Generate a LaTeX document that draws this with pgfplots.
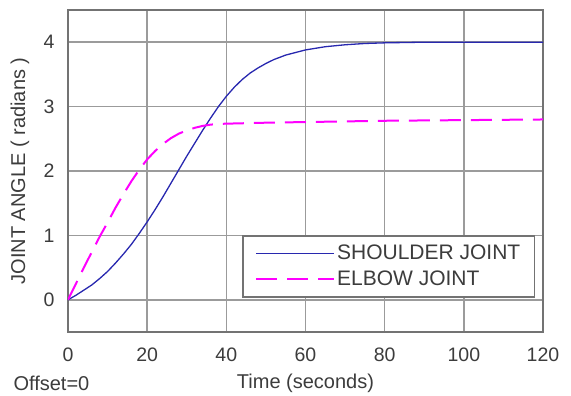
\documentclass[border=0pt]{standalone}
\usepackage{fontspec}
\setmainfont{Liberation Sans}
\usepackage{pgfplots}
\pgfplotsset{compat=1.18}
\definecolor{shoulder}{RGB}{40,40,175}
\definecolor{elbow}{RGB}{255,0,255}
\definecolor{txt}{RGB}{60,60,60}
\definecolor{gridc}{RGB}{155,155,155}
\definecolor{framec}{RGB}{115,115,115}
\begin{document}
\fontsize{19}{23}\selectfont
\begin{tikzpicture}
\begin{axis}[
  name=ax,
  scale only axis,
  width=475pt, height=322pt,
  xmin=0, xmax=120, ymin=-0.5, ymax=4.5,
  xtick={0,20,...,120}, ytick={0,1,2,3,4},
  grid=major,
  major grid style={gridc, line width=1.5pt},
  axis line style={framec, line width=1.7pt},
  major tick length=0pt,
  tick label style={txt, font=\fontsize{19.5}{23}\selectfont},
  /pgf/number format/assume math mode=true,
  xticklabel style={anchor=center, yshift=-23pt},
  yticklabel style={anchor=east, xshift=-7pt},
  legend style={at={(axis cs:118,0.03)}, anchor=south east,
    draw=framec, line width=1.5pt, font=\fontsize{21}{25}\selectfont,
    text=txt, inner xsep=12pt, inner ysep=7pt, row sep=4pt},
  legend cell align=left,
  legend image code/.code={\draw[#1] (0pt,0pt) -- (78pt,0pt);},
]
\addplot[shoulder, line width=1.3pt] coordinates {
(0,0) (2,0.07) (4,0.15) (6,0.23) (8,0.33) (10,0.44) (12,0.57) (14,0.71)
(16,0.86) (18,1.03) (20,1.21) (22,1.40) (24,1.60) (26,1.81) (28,2.02)
(30,2.23) (32,2.43) (34,2.63) (36,2.82) (38,3.0) (40,3.16) (42,3.30)
(44,3.42) (46,3.52) (48,3.60) (50,3.67) (52,3.73) (55,3.80) (60,3.88)
(65,3.93) (70,3.96) (75,3.98) (80,3.99) (90,4.0) (120,4.0)};
\addlegendentry{SHOULDER JOINT}
\addplot[elbow, line width=2pt, dash pattern=on 21pt off 10pt] coordinates {
(0,0) (2,0.25) (4,0.5) (6,0.74) (8,0.98) (10,1.2) (12,1.43) (14,1.64)
(16,1.84) (18,2.02) (20,2.18) (22,2.31) (24,2.42) (26,2.51) (28,2.58)
(30,2.63) (32,2.67) (34,2.70) (36,2.72) (38,2.73) (40,2.735) (50,2.75)
(60,2.76) (70,2.77) (80,2.78) (100,2.79) (120,2.80)};
\addlegendentry{ELBOW JOINT}
\end{axis}
\node[txt, font=\fontsize{20}{24}\selectfont] at ([yshift=-51pt]ax.south) {Time (seconds)};
\node[txt, rotate=90, font=\fontsize{20}{24}\selectfont] at ([xshift=-48pt]ax.west) {JOINT ANGLE ( radians )};
\node[txt, anchor=west, font=\fontsize{20}{24}\selectfont] at ([xshift=-61pt,yshift=-51pt]ax.south west) {Offset=0};
\pgfresetboundingbox
\path ([shift={(-68pt,-64pt)}]ax.south west) rectangle ([shift={(28pt,10pt)}]ax.north east);
\end{tikzpicture}
\end{document}
